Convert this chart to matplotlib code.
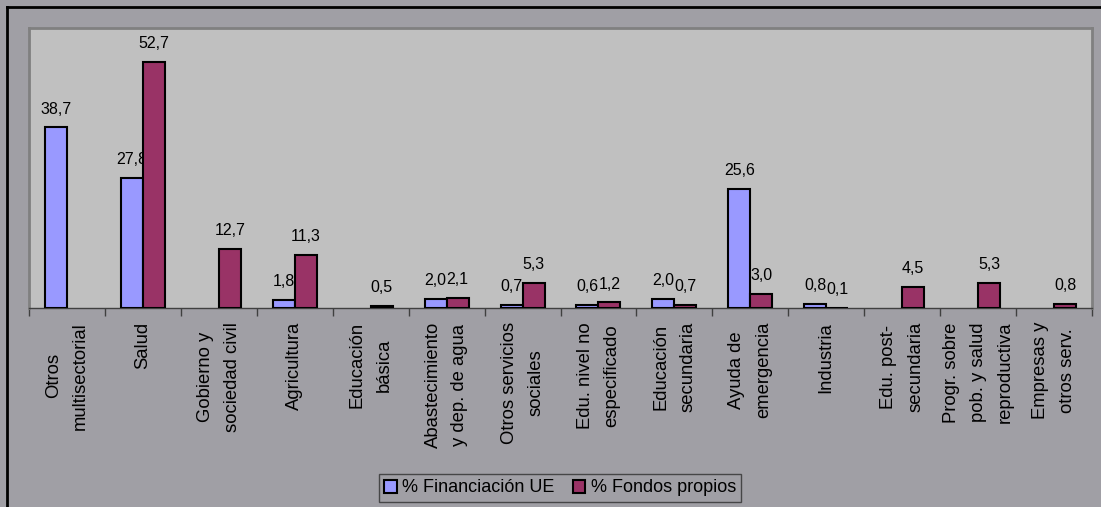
import numpy as np
import matplotlib
matplotlib.use("Agg")
from matplotlib import pyplot as plt
from matplotlib.lines import Line2D

plt.rcParams['font.family'] = ['Liberation Sans', 'DejaVu Sans']

sectores = ['Otros\nmultisectorial', 'Salud', 'Gobierno y\nsociedad civil',
            'Agricultura', 'Educación\nbásica', 'Abastecimiento\ny dep. de agua',
            'Otros servicios\nsociales', 'Edu. nivel no\nespecificado',
            'Educación\nsecundaria', 'Ayuda de\nemergencia', 'Industria',
            'Edu. post-\nsecundaria', 'Progr. sobre\npob. y salud\nreproductiva',
            'Empresas y\notros serv.']
financiacion_ue = [38.7, 27.8, None, 1.8, None, 2.0, 0.7, 0.6, 2.0, 25.6, 0.8, None, None, None]
fondos_propios = [None, 52.7, 12.7, 11.3, 0.5, 2.1, 5.3, 1.2, 0.7, 3.0, 0.1, 4.5, 5.3, 0.8]

fondo_fig = '#A09FA5'
fondo_ax = '#C0C0C0'
azul = '#9999FF'
granate = '#993366'

fig = plt.figure(figsize=(11.01, 5.07), dpi=100, facecolor=fondo_fig)
ax = fig.add_axes([29 / 1101, 1 - 308 / 507, (1092 - 29) / 1101, (308 - 28) / 507])
ax.set_facecolor(fondo_ax)

x = np.arange(len(sectores))
w = 0.29


def barras(valores, desp, color, nombre):
    pos = [xi + desp for xi, v in zip(x, valores) if v is not None]
    alt = [v for v in valores if v is not None]
    b = ax.bar(pos, alt, w, color=color, edgecolor='black',
               linewidth=1.5, label=nombre, zorder=3)
    for px, val in zip(pos, alt):
        ax.annotate(f'{val:.1f}'.replace('.', ','), (px, val),
                    xytext=(0, 10), textcoords='offset points',
                    ha='center', va='baseline', fontsize=11.5)
    return b


barras(financiacion_ue, -w / 2, azul, '% Financiación UE')
barras(fondos_propios, w / 2, granate, '% Fondos propios')

ax.set_xlim(-0.5, len(sectores) - 0.5)
ax.set_ylim(0, 60)
ax.set_yticks([])

ax.set_xticks(np.arange(len(sectores) + 1) - 0.5)
ax.set_xticklabels([])
ax.tick_params(axis='x', which='major', direction='out', length=6, width=1, color='#404040')
ax.set_xticks(x, minor=True)
ax.set_xticklabels(sectores, minor=True, rotation=90, fontsize=13.3,
                   va='top', ha='center', multialignment='center', linespacing=1.75)
ax.tick_params(axis='x', which='minor', length=0, pad=10)

for lado in ['top', 'right', 'left']:
    ax.spines[lado].set_color('#808080')
    ax.spines[lado].set_linewidth(2)
ax.spines['bottom'].set_color('#404040')
ax.spines['bottom'].set_linewidth(1)

leg = fig.legend(loc='center', bbox_to_anchor=(560 / 1101, 1 - 488 / 507), ncol=2,
                 fontsize=13, frameon=True, fancybox=False, handlelength=0.7,
                 handleheight=0.7, handletextpad=0.3, columnspacing=1.0,
                 borderpad=0.3, borderaxespad=0)
leg.get_frame().set_facecolor(fondo_fig)
leg.get_frame().set_edgecolor('#303030')
leg.get_frame().set_linewidth(1)

# marco exterior del grafico
fig.add_artist(Line2D([7 / 1101, 1], [1 - 7 / 507, 1 - 7 / 507], color='black',
                      linewidth=2, transform=fig.transFigure))
fig.add_artist(Line2D([7 / 1101, 7 / 1101], [0, 1 - 7 / 507], color='black',
                      linewidth=2, transform=fig.transFigure))

fig.savefig('out.png', dpi=100, facecolor=fondo_fig)
